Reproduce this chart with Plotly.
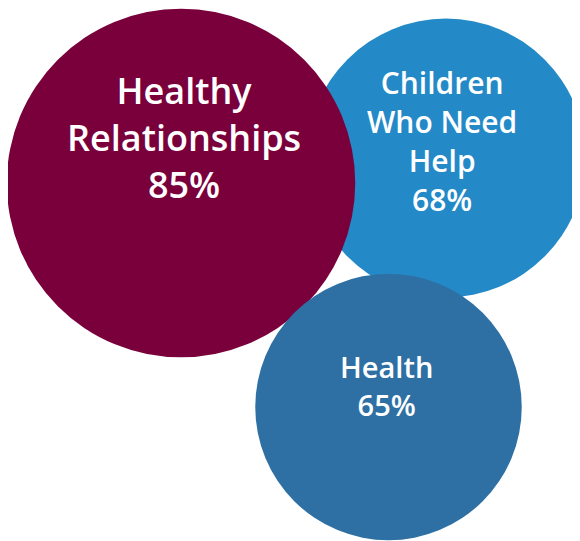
import plotly.graph_objects as go

# Data
categories = ["Children Who Need Help", "Healthy Relationships", "Health"]
labels = ["Children<br>Who Need<br>Help", "Healthy<br>Relationships", "Health"]
values = [68, 85, 65]  # percent

# Layout / style (not data)
colors = ["#2389C7", "#7A003C", "#2E70A4"]
centers = [(446, 158), (181, 183), (388.5, 407)]
text_pos = [(442, 141), (183.5, 137), (386, 385)]
font_sizes = [30, 36, 29]
px_per_pct = 4.1  # bubble diameter in px per percent

W, H = 580, 541
OFF = 8  # page body margin

fig = go.Figure()
fig.add_trace(go.Scatter(
    x=[c[0] for c in centers],
    y=[c[1] for c in centers],
    mode="markers",
    marker=dict(
        size=values,
        sizemode="diameter",
        sizeref=1 / px_per_pct,
        color=colors,
        opacity=1,
        line=dict(width=0),
    ),
    hoverinfo="skip",
    showlegend=False,
))

for lab, v, (tx, ty), fs in zip(labels, values, text_pos, font_sizes):
    fig.add_annotation(
        x=tx, y=ty, xref="x", yref="y",
        text=f"{lab}<br>{v}%",
        showarrow=False,
        xanchor="center", yanchor="middle",
        font=dict(family="Open Sans", size=fs, color="white", weight=600),
        align="center",
    )

fig.update_layout(
    width=W, height=H, autosize=False,
    margin=dict(l=0, r=0, t=0, b=0),
    paper_bgcolor="white", plot_bgcolor="white",
    xaxis=dict(range=[OFF, W + OFF], visible=False, fixedrange=True),
    yaxis=dict(range=[H + OFF, OFF], visible=False, fixedrange=True),
)

fig.write_html("out.html")
